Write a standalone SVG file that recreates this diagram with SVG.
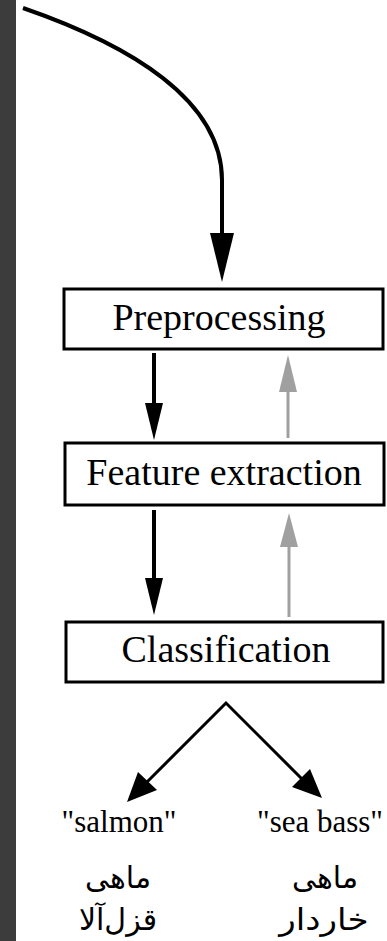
<svg xmlns="http://www.w3.org/2000/svg" width="387" height="941" viewBox="0 0 387 941">
<style>
.box{fill:#fff;stroke:#000;stroke-width:3}
.lbl{font-family:"Liberation Serif","Times New Roman",serif;font-size:38px;fill:#000;text-anchor:middle}
.out{font-family:"Liberation Serif","Times New Roman",serif;font-size:31px;fill:#000;text-anchor:middle}
.fa{font-family:"DejaVu Sans",sans-serif;font-size:30px;fill:#000;text-anchor:middle}
.blk{stroke:#000;fill:none}
.gry{stroke:#a0a0a0;fill:none}
</style>
<rect x="0" y="0" width="387" height="941" fill="#fff"/>
<rect x="0" y="0" width="16" height="941" fill="#3c3c3c"/>
<g id="connectors">
  <path class="blk" stroke-width="4" d="M23,8 C130,45 222,100 222,180 L222,236"/>
  <polygon points="210,233 234,233 222,282" fill="#000"/>
  <line class="blk" stroke-width="4" x1="154" y1="353" x2="154" y2="405"/>
  <polygon points="145,403 163,403 154,440" fill="#000"/>
  <line class="gry" stroke-width="3" x1="288" y1="438" x2="288" y2="390"/>
  <polygon points="279,392 297,392 288,355" fill="#a0a0a0"/>
  <line class="blk" stroke-width="4" x1="154" y1="510" x2="154" y2="580"/>
  <polygon points="145,578 163,578 154,615" fill="#000"/>
  <line class="gry" stroke-width="3" x1="289" y1="617" x2="289" y2="545"/>
  <polygon points="280,547 298,547 289,513" fill="#a0a0a0"/>
  <polyline class="blk" stroke-width="3" points="146,783 226,703 302,779"/>
  <polygon points="127,802 138,772 157,790" fill="#000"/>
  <polygon points="322,798 292,787 310,769" fill="#000"/>
</g>
<g id="preprocessing">
  <rect class="box" x="64" y="289" width="319" height="60"/>
  <text class="lbl" x="219" y="330">Preprocessing</text>
</g>
<g id="feature-extraction">
  <rect class="box" x="65" y="443" width="319" height="62"/>
  <text class="lbl" x="224" y="485">Feature extraction</text>
</g>
<g id="classification">
  <rect class="box" x="66" y="622" width="317" height="60"/>
  <text class="lbl" x="226" y="662">Classification</text>
</g>
<g id="salmon">
  <text class="out" x="119" y="832">"salmon"</text>
  <text class="fa" x="118" y="888">ماهی</text>
  <text class="fa" x="118" y="930">قزل‌آلا</text>
</g>
<g id="sea-bass">
  <text class="out" x="320" y="832">"sea bass"</text>
  <text class="fa" x="325" y="888">ماهی</text>
  <text class="fa" transform="translate(324,930) scale(1.14,1)" x="0" y="0">خاردار</text>
</g>
</svg>
